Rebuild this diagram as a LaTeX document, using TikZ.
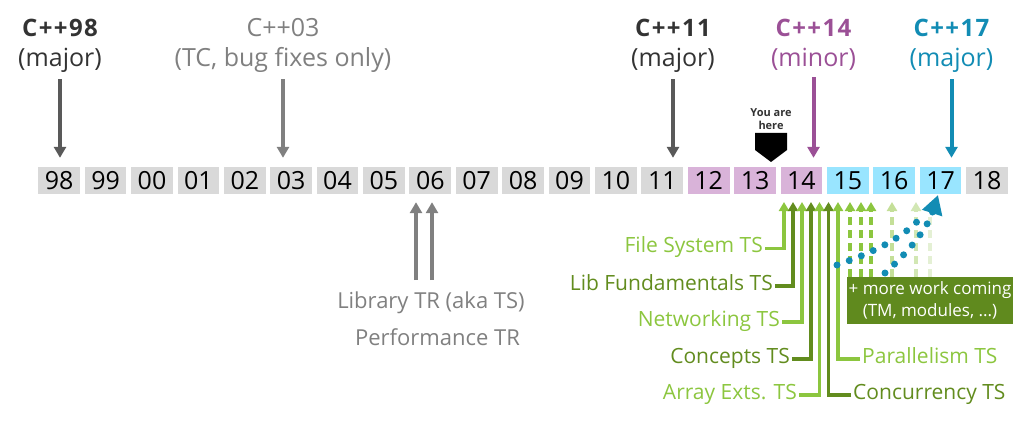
\documentclass[tikz,border=0pt]{standalone}
\usepackage{fontspec}
\setmainfont{Open Sans}
\usepackage{tikz}
\usetikzlibrary{arrows.meta}

\definecolor{yrgray}{RGB}{217,217,217}
\definecolor{yrpink}{RGB}{217,179,217}
\definecolor{yrcyan}{RGB}{153,229,255}
\definecolor{dkgray}{RGB}{51,51,51}
\definecolor{midgray}{RGB}{128,128,128}
\definecolor{arrgray}{RGB}{89,89,89}
\definecolor{cpurple}{RGB}{155,80,150}
\definecolor{cteal}{RGB}{18,140,180}
\definecolor{lgreen}{RGB}{140,198,63}
\definecolor{dgreen}{RGB}{98,140,30}
\definecolor{boxgreen}{RGB}{96,138,30}
\definecolor{paleA}{RGB}{196,223,152}
\definecolor{paleB}{RGB}{210,231,180}
\definecolor{paleC}{RGB}{228,240,212}

\begin{document}
\begin{tikzpicture}[x=1pt, y=-1pt]

\tikzstyle{year} = [rectangle, minimum width=41.7pt, minimum height=27pt, inner sep=0pt, font=\fontsize{25}{25}\selectfont]
\tikzstyle{ver} = [anchor=base, inner sep=0pt, font=\fontsize{25}{25}\selectfont]
\tikzstyle{verb} = [ver, font=\fontsize{24}{24}\selectfont\bfseries\addfontfeature{LetterSpace=6}]
\tikzstyle{tslabel} = [inner sep=2pt, text height=0.8em, text depth=0pt, font=\fontsize{21}{21}\selectfont]
\tikzstyle{bigarrow} = [line width=4pt, -{Triangle[width=12pt,length=11pt]}]
\tikzstyle{garrow} = [line width=3.5pt, -{Triangle[width=10pt,length=9pt]}]
\tikzstyle{gdash} = [garrow, dash pattern=on 8pt off 5pt]
\tikzstyle{tdots} = [cteal, line width=7pt, line cap=round, dash pattern=on 0pt off 13pt]

\useasboundingbox (0,0) rectangle (1024,422);

% the years
\node[year, fill=yrgray] (y98) at (59.2,180.5) {98};
\node[year, fill=yrgray] (y99) at (105.6,180.5) {99};
\node[year, fill=yrgray] (y00) at (152.0,180.5) {00};
\node[year, fill=yrgray] (y01) at (198.4,180.5) {01};
\node[year, fill=yrgray] (y02) at (244.8,180.5) {02};
\node[year, fill=yrgray] (y03) at (291.2,180.5) {03};
\node[year, fill=yrgray] (y04) at (337.5,180.5) {04};
\node[year, fill=yrgray] (y05) at (383.9,180.5) {05};
\node[year, fill=yrgray] (y06) at (430.3,180.5) {06};
\node[year, fill=yrgray] (y07) at (476.7,180.5) {07};
\node[year, fill=yrgray] (y08) at (523.1,180.5) {08};
\node[year, fill=yrgray] (y09) at (569.5,180.5) {09};
\node[year, fill=yrgray] (y10) at (615.9,180.5) {10};
\node[year, fill=yrgray] (y11) at (662.3,180.5) {11};
\node[year, fill=yrpink] (y12) at (708.7,180.5) {12};
\node[year, fill=yrpink] (y13) at (755.1,180.5) {13};
\node[year, fill=yrpink] (y14) at (801.4,180.5) {14};
\node[year, fill=yrcyan] (y15) at (847.8,180.5) {15};
\node[year, fill=yrcyan] (y16) at (894.2,180.5) {16};
\node[year, fill=yrcyan] (y17) at (940.6,180.5) {17};
\node[year, fill=yrgray] (y18) at (987.0,180.5) {18};

% the standards
\node[verb, text=dkgray] (v98) at (60,37) {C++98};
\node[ver, text=dkgray] (m98) at (60,67) {(major)};
\node[ver, text=midgray] (v03) at (283,37) {C++03};
\node[ver, text=midgray] (m03) at (283,67) {(TC, bug fixes only)};
\node[verb, text=dkgray] (v11) at (673,37) {C++11};
\node[ver, text=dkgray] (m11) at (673,67) {(major)};
\node[verb, text=cpurple] (v14) at (813.5,37) {C++14};
\node[ver, text=cpurple] (m14) at (813.5,67) {(minor)};
\node[verb, text=cteal] (v17) at (951.5,37) {C++17};
\node[ver, text=cteal] (m17) at (951.5,67) {(major)};

\draw[bigarrow, arrgray, shorten <=6pt, shorten >=9pt] (m98.south) -- (m98.south |- y98.north);
\draw[bigarrow, midgray, shorten <=6pt, shorten >=9pt] (m03.south) -- (m03.south |- y03.north);
\draw[bigarrow, arrgray, shorten <=6pt, shorten >=9pt] (m11.south) -- (m11.south |- y11.north);
\draw[bigarrow, cpurple, shorten <=6pt, shorten >=9pt] (m14.south) -- (m14.south |- y14.north);
\draw[bigarrow, cteal, shorten <=6pt, shorten >=9pt] (m17.south) -- (m17.south |- y17.north);

% you are here
\node[inner sep=0pt, align=center, text=dkgray, font=\fontsize{11}{13}\selectfont\bfseries] (yah) at (771,119) {You are\\here};
\fill (755,133) -- (787,133) -- (787,150) -- (771,162) -- (755,150) -- cycle;

% technical reports
\node[ver, text=midgray, font=\fontsize{22}{22}\selectfont] (lib) at (431,308) {Library TR (aka TS)};
\node[ver, text=midgray, font=\fontsize{22}{22}\selectfont] (perf) at (437.5,345) {Performance TR};
\coordinate (r1) at (416,280);
\coordinate (r2) at (432,280);
\draw[bigarrow, midgray, shorten >=8pt] (r1) -- (r1 |- y06.south);
\draw[bigarrow, midgray, shorten >=8pt] (r2) -- (r2 |- y06.south);

% technical specifications
\coordinate (a1) at (784,202);
\coordinate (a2) at (793,202);
\coordinate (a3) at (802,202);
\coordinate (a4) at (811,202);
\coordinate (a5) at (819.5,202);
\coordinate (a6) at (828.5,202);
\coordinate (a7) at (838,202);

\node[tslabel, text=lgreen, anchor=east] (fs) at (765,248.5) {File System TS};
\node[tslabel, text=dgreen, anchor=east] (lf) at (775,286) {Lib Fundamentals TS};
\node[tslabel, text=lgreen, anchor=east] (nw) at (782,322) {Networking TS};
\node[tslabel, text=dgreen, anchor=east] (cp) at (792,359) {Concepts TS};
\node[tslabel, text=lgreen, anchor=east] (ae) at (799,395) {Array Exts. TS};
\node[tslabel, text=lgreen, anchor=west] (pl) at (860,359) {Parallelism TS};
\node[tslabel, text=dgreen, anchor=west] (cc) at (851,395) {Concurrency TS};

\draw[garrow, lgreen] (fs.east) -| (a1);
\draw[garrow, dgreen] (lf.east) -| (a2);
\draw[garrow, lgreen] (nw.east) -| (a3);
\draw[garrow, dgreen] (cp.east) -| (a4);
\draw[garrow, lgreen] (ae.east) -| (a5);
\draw[garrow, dgreen] (cc.west) -| (a6);
\draw[garrow, lgreen] (pl.west) -| (a7);

% more work coming
\node[fill=boxgreen, text=white, minimum width=166pt, minimum height=47pt, inner sep=0pt, align=center, font=\fontsize{17}{22}\selectfont] (mw) at (930,300.5) {+ more work coming\\(TM, modules, ...)};

\coordinate (d1) at (850,202);
\coordinate (d2) at (861,202);
\coordinate (d3) at (871,202);
\coordinate (d4) at (892,202);
\coordinate (d5) at (916,202);
\coordinate (d6) at (930,202);

\draw[gdash, lgreen] (mw.north -| d1) -- (d1);
\draw[gdash, lgreen] (mw.north -| d2) -- (d2);
\draw[gdash, lgreen] (mw.north -| d3) -- (d3);
\draw[gdash, paleA] (mw.north -| d4) -- (d4);
\draw[gdash, paleB] (mw.north -| d5) -- (d5);
\draw[gdash, paleC] (mw.north -| d6) -- (d6);

\coordinate (t1) at (837,265);
\coordinate (t2) at (885,273);
\coordinate (tb) at (924,214);
\coordinate (tt) at (938,195);
\draw[tdots] (t1) .. controls (868,254) and (903,240) .. (tb);
\draw[tdots, -{Triangle[width=20pt,length=19pt]}] (t2) .. controls (903,257) and (926,232) .. (tt);

\end{tikzpicture}
\end{document}
